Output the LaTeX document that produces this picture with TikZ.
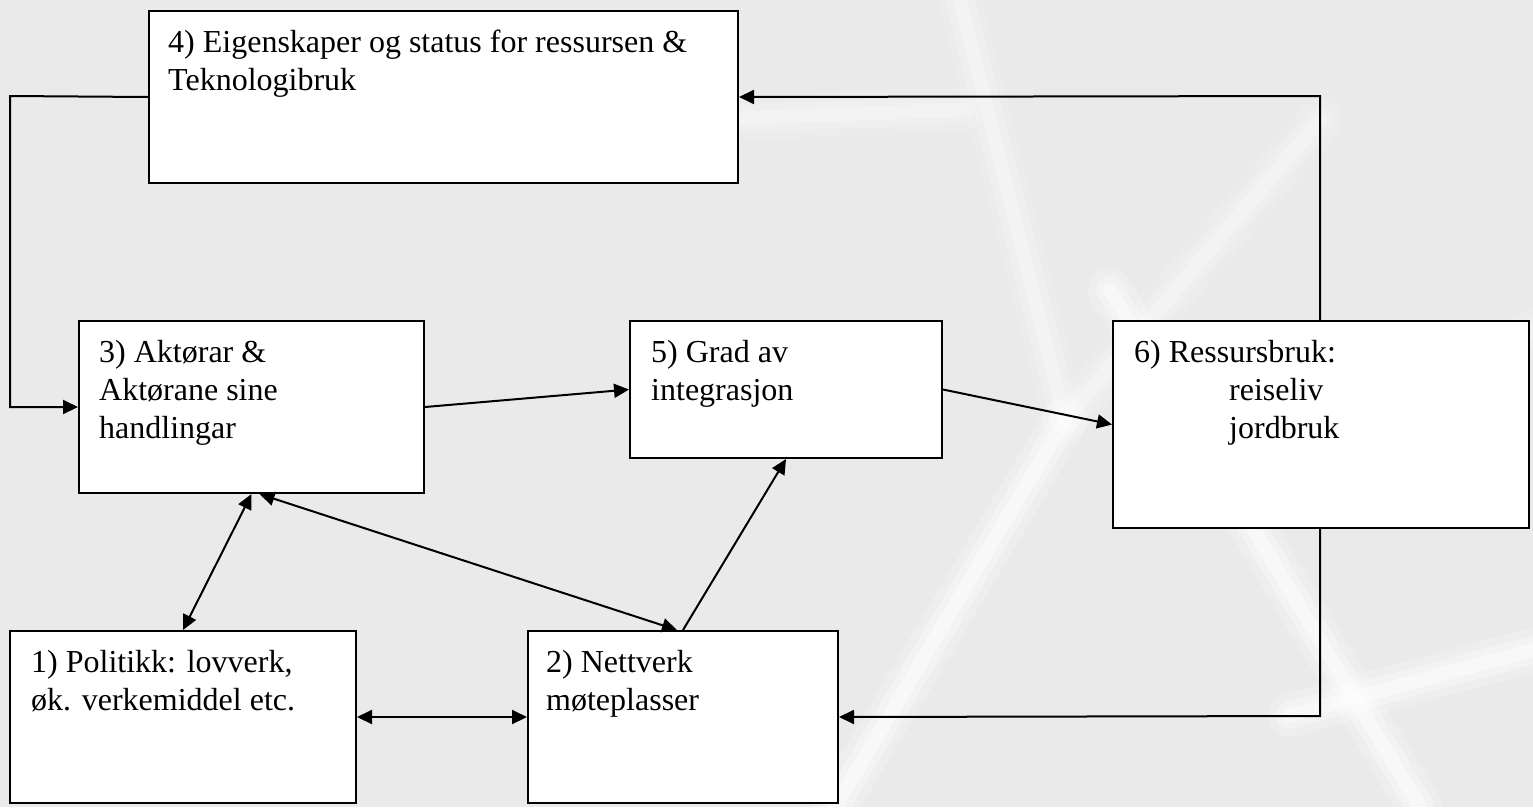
\documentclass[tikz,border=0pt]{standalone}
\usepackage{fontspec}
\setmainfont{Liberation Serif}
\usetikzlibrary{arrows.meta}
\definecolor{bgcol}{RGB}{234,234,234}
\tikzset{
  box/.style={draw=black, line width=2pt, fill=white, rectangle, anchor=north west, inner sep=0pt},
  txt/.style={anchor=north west, inner sep=0pt, align=left, font=\fontsize{32}{38}\selectfont},
  arr/.style={line width=2pt, -{Triangle[length=15pt,width=14pt]}},
  darr/.style={line width=2pt, {Triangle[length=15pt,width=14pt]}-{Triangle[length=15pt,width=14pt]}},
  streak/.style={white, line cap=round, line join=round},
}
\begin{document}
\begin{tikzpicture}[x=1pt, y=-1pt]
\fill[bgcol] (0,0) rectangle (1533,807);
\useasboundingbox (0,0) rectangle (1533,807);
% faint background streaks
\foreach \w/\o in {44/0.2, 28/0.3, 14/0.45}{
  \draw[streak, line width=\w pt, opacity=\o] (835,807) -- (1065,420);
  \draw[streak, line width=\w pt, opacity=0.6*\o] (1065,420) -- (960,0);
  \draw[streak, line width=\w pt, opacity=\o] (1110,290) -- (1420,807);
  \draw[streak, line width=\w pt, opacity=\o] (1290,715) -- (1533,650);
  \draw[streak, line width=\w pt, opacity=0.6*\o] (1065,420) -- (1320,120);
  \draw[streak, line width=\w pt, opacity=0.6*\o] (740,118) -- (960,110);
  \draw[streak, line width=\w pt, opacity=0.5*\o] (1400,420) -- (1533,330);
}

% boxes
\node[box, minimum width=589pt, minimum height=172pt] (b4) at (148,10) {};
\node[box, minimum width=345pt, minimum height=172pt] (b3) at (78,320) {};
\node[box, minimum width=312pt, minimum height=137pt] (b5) at (629,320) {};
\node[box, minimum width=416pt, minimum height=207pt] (b6) at (1112,320) {};
\node[box, minimum width=346pt, minimum height=172pt] (b1) at (9,630) {};
\node[box, minimum width=310pt, minimum height=172pt] (b2) at (527,630) {};

% texts
\node[txt] (t4) at (168,30) {4) Eigenskaper og status for ressursen \&\\Teknologibruk};
\node[txt] (t3) at (99,340) {3) Aktørar \&\\Aktørane sine\\handlingar};
\node[txt] (t5) at (651,340) {5) Grad av\\integrasjon};
\node[txt] (t6) at (1134,340) {6) Ressursbruk:\\\hspace*{95pt}reiseliv\\\hspace*{95pt}jordbruk};
\node[txt] (t1) at (31,650) {1) Politikk: lovverk,\\øk. verkemiddel etc.};
\node[txt] (t2) at (546,650) {2) Nettverk\\møteplasser};

% connectors
\coordinate (c1) at (10,96);
\coordinate (c3) at (1320,96);
\coordinate (c4) at (1320,716);
\draw[arr] (b4.west) -- (c1) |- (b3.west);
\draw[arr] (b6.north -| c3) -- (c3) -- (b4.east);
\draw[arr] (b6.south -| c4) -- (c4) -- (b2.east);
\draw[darr] (b1.east) -- (b2.west);
\draw[arr] (b3.east) -- (b5.west);
\draw[arr] (b5.east) -- (b6.west);
\draw[arr] (b2.north) -- (b5.south);
\draw[darr] (b1.north) -- (b3.south);
\draw[darr] ([xshift=-6pt]b2.north) -- ([xshift=8pt]b3.south);
\end{tikzpicture}
\end{document}
